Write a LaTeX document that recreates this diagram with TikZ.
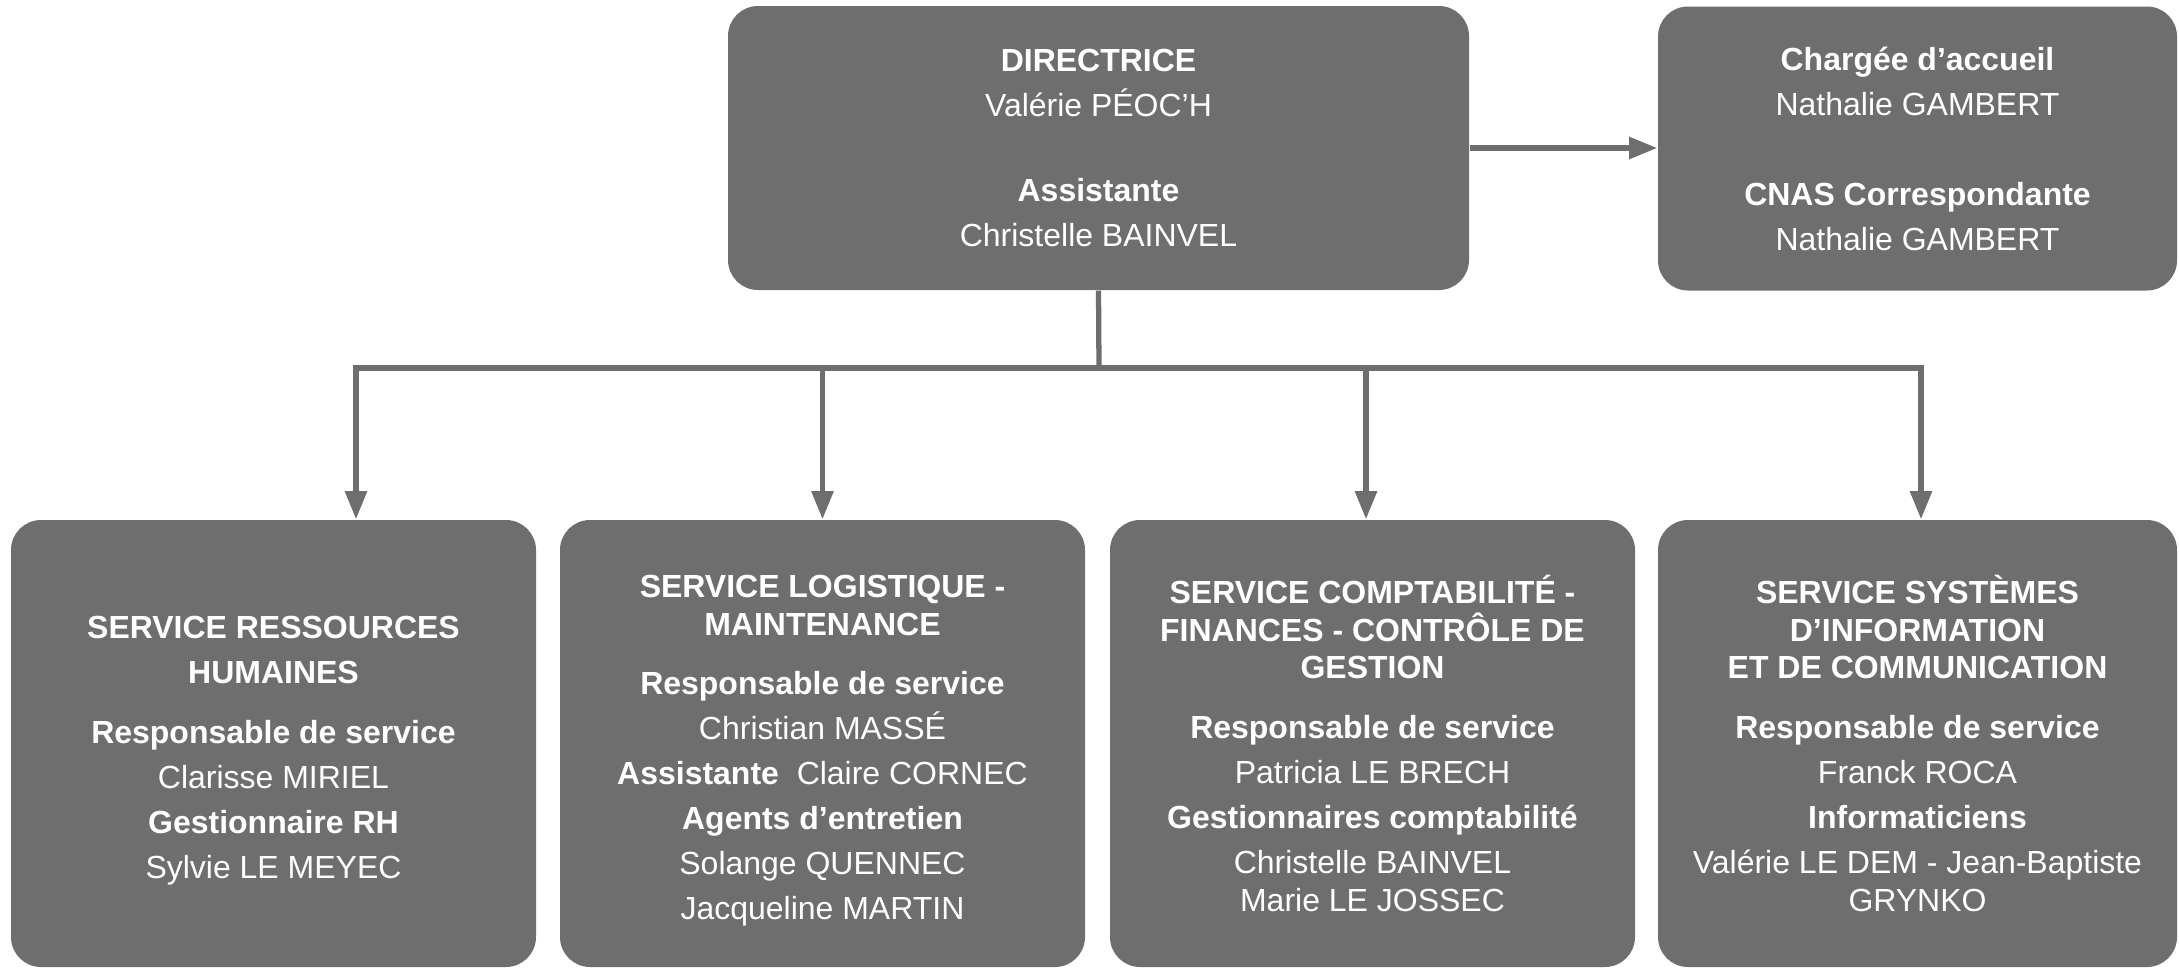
\documentclass[tikz,border=0pt]{standalone}
\usepackage{fontspec}
\setmainfont{Liberation Sans}
\usetikzlibrary{arrows.meta}

\definecolor{boxgray}{RGB}{110,110,110}

\begin{document}
\begin{tikzpicture}[
		every node/.style={font=\fontsize{9.1}{12.8}\selectfont, text=white, align=center},
		box/.style={fill=boxgray, rounded corners=0.3cm, inner sep=0pt},
		topbox/.style={box, minimum height=2.84cm},
		servbox/.style={box, minimum width=5.25cm, minimum height=4.47cm},
		link/.style={draw=boxgray, line width=1.5pt},
		arr/.style={link, -{Triangle[length=8pt, width=6pt]}}
	]
		\useasboundingbox (0,0) rectangle (21.79,-9.69);
		
		% Top row
		\node[topbox, minimum width=7.41cm] (dir) at (10.985,-1.48)
			{\bfseries DIRECTRICE\\ Valérie PÉOC’H\\[11.4pt]
			 \bfseries Assistante\\ Christelle BAINVEL};
		\node[topbox, minimum width=5.19cm] (acc) at (19.175,-1.485)
			{\bfseries Chargée d’accueil\\ Nathalie GAMBERT\\[12.8pt]
			 \bfseries CNAS Correspondante\\ Nathalie GAMBERT};
		
		% Services
		\node[servbox] (rh) at (2.735,-7.435)
			{\rule{0pt}{10.5pt}\bfseries SERVICE RESSOURCES\\ \bfseries HUMAINES\\[4.2pt]
			 \bfseries Responsable de service\\ Clarisse MIRIEL\\
			 \bfseries Gestionnaire RH\\ Sylvie LE MEYEC};
		\node[servbox] (log) at (8.225,-7.435)
			{\rule{0pt}{10.5pt}\bfseries SERVICE LOGISTIQUE -\\[-2.1pt] \bfseries MAINTENANCE\\[4.2pt]
			 \bfseries Responsable de service\\ Christian MASSÉ\\
			 {\bfseries Assistante}\ \ Claire CORNEC\\
			 \bfseries Agents d’entretien\\ Solange QUENNEC\\ Jacqueline MARTIN};
		\node[servbox] (compta) at (13.725,-7.435)
			{\bfseries SERVICE COMPTABILITÉ -\\[-2.1pt] \bfseries FINANCES - CONTRÔLE DE\\[-2.1pt]
			 \bfseries GESTION\\[4.2pt]
			 \bfseries Responsable de service\\ Patricia LE BRECH\\
			 \bfseries Gestionnaires comptabilité\\ Christelle BAINVEL\\[-2.1pt] Marie LE JOSSEC};
		\node[servbox, minimum width=5.19cm] (si) at (19.175,-7.435)
			{\bfseries SERVICE SYSTÈMES\\[-2.1pt] \bfseries D’INFORMATION\\[-2.1pt]
			 \bfseries ET DE COMMUNICATION\\[4.2pt]
			 \bfseries Responsable de service\\ Franck ROCA\\
			 \bfseries Informaticiens\\ Valérie LE DEM - Jean-Baptiste\\[-2.1pt] GRYNKO};
		
		% Connectors
		\coordinate (bus) at (10.99,-3.68);
		\coordinate (busL) at (3.56,-3.68);
		\coordinate (busC) at (13.66,-3.68);
		\coordinate (busR) at (19.21,-3.68);
		
		\draw[arr] (dir.east) -- (dir.east -| acc.west);
		\draw[link] (dir.south) -- (bus);
		\draw[arr] (bus) -| (busL |- rh.north);
		\draw[arr] (bus) -| (busR |- si.north);
		\draw[arr] (log.north |- bus) -- (log.north);
		\draw[arr] (busC) -- (busC |- compta.north);
		
	\end{tikzpicture}
\end{document}
